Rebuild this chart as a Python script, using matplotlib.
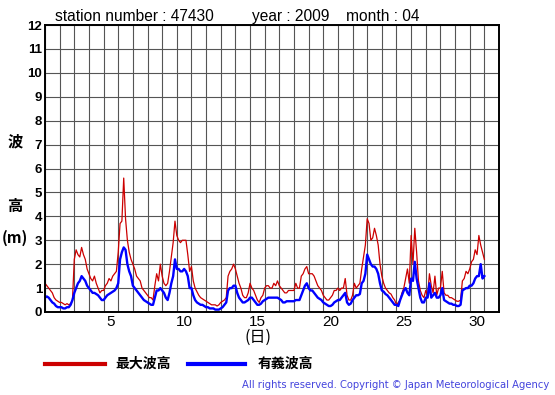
import matplotlib
matplotlib.use('Agg')
import matplotlib.pyplot as plt
import numpy as np

plt.rcParams['font.family'] = ['Liberation Sans', 'Noto Sans CJK JP', 'DejaVu Sans']

# 3-hourly values (8 per day), April 1 00h .. end of April 30
max_wave = [
    1.2, 1.1, 1.0, 0.9, 0.8, 0.6, 0.5, 0.45,
    0.4, 0.4, 0.35, 0.3, 0.35, 0.3, 0.35, 0.5,
    2.2, 2.6, 2.4, 2.3, 2.7, 2.4, 2.2, 1.8,
    1.6, 1.4, 1.3, 1.5, 1.2, 1.0, 0.8, 0.9,
    0.9, 1.1, 1.2, 1.4, 1.3, 1.5, 1.6, 1.7,
    2.5, 3.7, 3.8, 5.6, 3.9, 3.0, 2.5, 2.2,
    2.0, 1.8, 1.5, 1.4, 1.3, 1.0, 0.9, 0.8,
    0.7, 0.6, 0.6, 0.5, 1.1, 1.6, 1.3, 2.0,
    1.5, 1.2, 1.1, 1.2, 1.7, 2.3, 2.9, 3.8,
    3.2, 3.0, 2.9, 3.0, 3.0, 3.0, 2.4, 1.7,
    1.9, 1.3, 1.0, 0.85, 0.7, 0.6, 0.55, 0.5,
    0.45, 0.4, 0.35, 0.3, 0.3, 0.3, 0.25, 0.3,
    0.4, 0.45, 0.5, 0.6, 1.5, 1.7, 1.8, 2.0,
    1.8, 1.5, 1.2, 1.0, 0.7, 0.6, 0.6, 0.8,
    1.2, 1.0, 0.9, 0.7, 0.5, 0.4, 0.6, 0.7,
    1.0, 1.1, 1.1, 1.0, 1.0, 1.2, 1.1, 1.3,
    1.1, 1.0, 0.9, 0.8, 0.8, 0.9, 0.9, 0.9,
    0.9, 1.2, 1.0, 1.0, 1.5, 1.6, 1.8, 1.9,
    1.6, 1.6, 1.6, 1.5, 1.3, 1.1, 1.0, 0.9,
    0.7, 0.6, 0.5, 0.5, 0.6, 0.7, 0.9, 0.9,
    1.0, 0.9, 1.0, 1.0, 1.4, 0.7, 0.5, 0.5,
    0.7, 1.2, 1.0, 1.1, 1.2, 1.8, 2.3, 2.8,
    3.9, 3.7, 3.0, 3.1, 3.5, 3.2, 2.8, 2.0,
    1.5, 1.2, 1.0, 0.9, 0.8, 0.75, 0.6, 0.5,
    0.3, 0.4, 0.5, 0.8, 1.0, 1.4, 1.8, 1.2,
    3.2, 2.0, 3.5, 2.5, 1.3, 0.9, 0.7, 0.6,
    0.9, 0.7, 1.6, 1.1, 0.8, 1.5, 0.7, 1.0,
    1.0, 1.7, 0.8, 0.7, 0.7, 0.6, 0.6, 0.55,
    0.5, 0.45, 0.45, 0.5, 1.3, 1.4, 1.7, 1.6,
    1.8, 2.1, 2.2, 2.6, 2.4, 3.2, 2.8, 2.5,
    2.2,
]

sig_wave = [
    0.6, 0.65, 0.6, 0.5, 0.4, 0.35, 0.25, 0.2,
    0.2, 0.2, 0.15, 0.15, 0.2, 0.2, 0.3, 0.5,
    0.8, 1.0, 1.2, 1.3, 1.5, 1.4, 1.3, 1.1,
    1.0, 0.9, 0.8, 0.8, 0.75, 0.7, 0.6, 0.5,
    0.5, 0.6, 0.7, 0.75, 0.8, 0.85, 0.9, 1.0,
    1.2, 2.2, 2.5, 2.7, 2.6, 2.0, 1.7, 1.5,
    1.1, 1.0, 0.9, 0.8, 0.7, 0.6, 0.5, 0.45,
    0.4, 0.35, 0.3, 0.3, 0.6, 0.9, 0.9, 1.0,
    0.9, 0.8, 0.6, 0.5, 0.8, 1.2, 1.5, 2.2,
    1.8, 1.8, 1.7, 1.7, 1.8, 1.7, 1.5, 1.0,
    1.0, 0.7, 0.5, 0.4, 0.35, 0.3, 0.3, 0.25,
    0.2, 0.2, 0.15, 0.15, 0.15, 0.1, 0.1, 0.1,
    0.15, 0.2, 0.3, 0.4, 0.9, 1.0, 1.0, 1.1,
    1.1, 0.8, 0.6, 0.5, 0.4, 0.4, 0.45, 0.5,
    0.6, 0.6, 0.5, 0.4, 0.3, 0.3, 0.35, 0.45,
    0.5, 0.55, 0.6, 0.6, 0.6, 0.6, 0.6, 0.6,
    0.55, 0.5, 0.4, 0.4, 0.45, 0.45, 0.45, 0.45,
    0.45, 0.5, 0.5, 0.5, 0.7, 0.9, 1.1, 1.2,
    1.0, 0.9, 0.9, 0.8, 0.7, 0.6, 0.55, 0.5,
    0.4, 0.35, 0.3, 0.25, 0.25, 0.3, 0.4, 0.45,
    0.5, 0.5, 0.6, 0.7, 0.8, 0.4, 0.3, 0.35,
    0.5, 0.6, 0.7, 0.7, 0.75, 1.2, 1.3, 1.6,
    2.4, 2.2, 2.0, 1.9, 1.9, 1.8, 1.6, 1.2,
    0.9, 0.85, 0.75, 0.7, 0.6, 0.5, 0.4, 0.3,
    0.3, 0.25, 0.5, 0.7, 0.9, 1.0, 0.8, 0.7,
    1.4, 1.3, 2.1, 1.4, 1.0, 0.6, 0.4, 0.4,
    0.6, 0.6, 1.2, 0.6, 0.7, 0.8, 0.6, 0.6,
    0.7, 1.0, 0.5, 0.45, 0.4, 0.35, 0.35, 0.3,
    0.3, 0.25, 0.25, 0.3, 0.9, 0.95, 1.0, 1.0,
    1.1, 1.1, 1.2, 1.4, 1.5, 1.5, 2.0, 1.4,
    1.5,
]

steps_per_day = 8
xtick_days = [5, 10, 15, 20, 25, 30]
ytick_vals = list(range(0, 13))

t = 1 + np.arange(len(max_wave)) / steps_per_day

W, H = 555, 395
fig = plt.figure(figsize=(W / 100, H / 100), dpi=100)
ax = fig.add_axes([45 / W, 83 / H, 454 / W, 287 / H])

ax.plot(t, max_wave, color='#cc0000', lw=0.9)
ax.plot(t, sig_wave, color='#0000ff', lw=1.7)

ax.set_xlim(1, 32)
ax.set_ylim(0, 12)
ax.set_xticks(np.arange(1, 33), minor=True)
ax.set_xticks([d + 0.5 for d in xtick_days])
ax.set_xticklabels([str(d) for d in xtick_days], fontsize=11)
ax.set_yticks(ytick_vals)
ax.set_yticklabels([str(v) for v in ytick_vals], fontsize=9.5, fontweight='bold')
ax.tick_params(which='both', length=0)
ax.tick_params(axis='x', pad=2)
ax.tick_params(axis='y', pad=2)
ax.grid(which='minor', axis='x', color='#555555', lw=0.8)
ax.grid(which='major', axis='y', color='#555555', lw=0.8)
ax.set_axisbelow(True)
for s in ax.spines.values():
    s.set_linewidth(1.4)
    s.set_color('black')

# titles
fig.text(55 / W, 1 - 21 / H, 'station number : 47430', fontsize=11.2, va='baseline')
fig.text(252 / W, 1 - 21 / H, 'year : 2009', fontsize=11.2, va='baseline')
fig.text(346 / W, 1 - 21 / H, 'month : 04', fontsize=11.2, va='baseline')

# y label
fig.text(15 / W, 1 - 141 / H, '波', fontsize=11, fontweight='bold', ha='center', va='center',
         family=['Noto Sans CJK JP'])
fig.text(15 / W, 1 - 206 / H, '高', fontsize=11, fontweight='bold', ha='center', va='center',
         family=['Noto Sans CJK JP'])
fig.text(15 / W, 1 - 238 / H, '(m)', fontsize=11, fontweight='bold', ha='center', va='center',
         family=['Noto Sans CJK JP'])

# x label
fig.text(258 / W, 1 - 337 / H, '(日)', fontsize=11.5, ha='center', va='center',
         family=['Noto Sans CJK JP'])

# legend
fig.add_artist(plt.Line2D([45 / W, 105 / W], [1 - 364 / H, 1 - 364 / H], color='#cc0000', lw=3))
fig.text(115 / W, 1 - 364 / H, '最大波高', fontsize=10, fontweight='bold', va='center',
         family=['Noto Sans CJK JP'])
fig.add_artist(plt.Line2D([188 / W, 245 / W], [1 - 364 / H, 1 - 364 / H], color='#0000ff', lw=3))
fig.text(258 / W, 1 - 364 / H, '有義波高', fontsize=10, fontweight='bold', va='center',
         family=['Noto Sans CJK JP'])

fig.text(549 / W, 1 - 385 / H, 'All rights reserved. Copyright \u00a9 Japan Meteorological Agency',
         fontsize=7.2, color='#4444dd', ha='right', va='center', family=['DejaVu Sans'])

fig.savefig('out.png', dpi=100)
